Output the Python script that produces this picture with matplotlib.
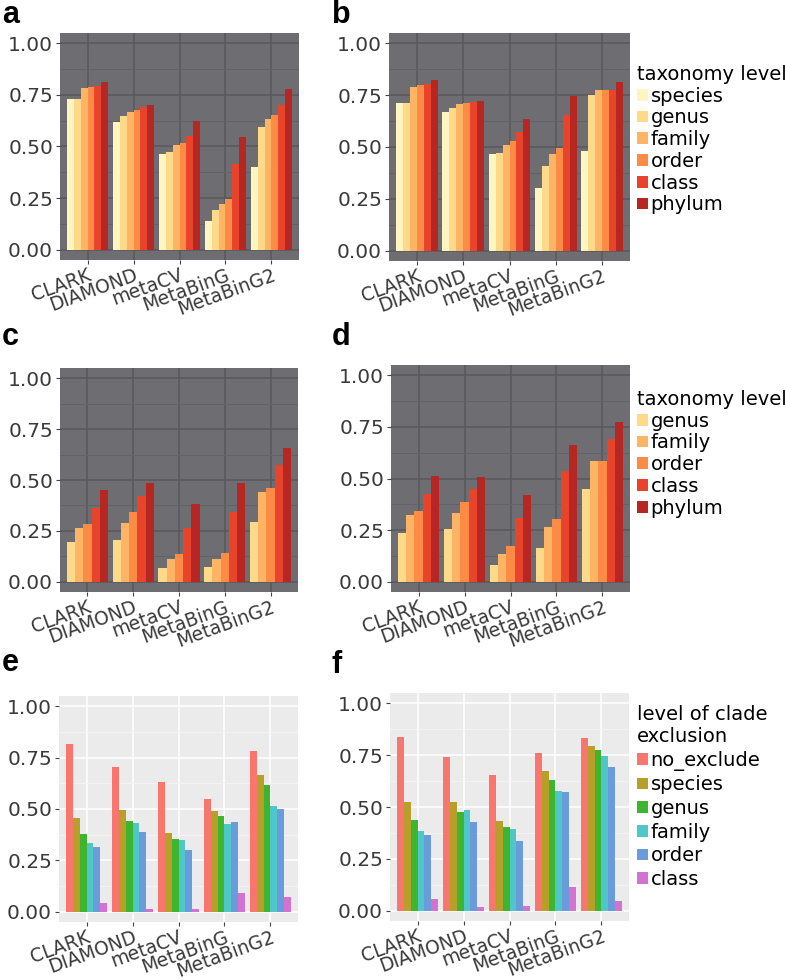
import matplotlib
matplotlib.use("Agg")
from matplotlib import pyplot as plt
from matplotlib.patches import Patch
from matplotlib.transforms import ScaledTranslation
import numpy as np

plt.rcParams['font.family'] = ['DejaVu Sans']

tools = ["CLARK", "DIAMOND", "metaCV", "MetaBinG", "MetaBinG2"]

tax_levels = ["species", "genus", "family", "order", "class", "phylum"]
tax_colors = ["#FFF5C0", "#FDD98A", "#FDB465", "#FC8B45", "#E8442C", "#B62622"]

excl_levels = ["no_exclude", "species", "genus", "family", "order", "class"]
excl_colors = ["#F8766D", "#B79F2A", "#3DB52F", "#4FC6C8", "#6A9BDB", "#D372D0"]

# rows = tools, columns = levels
a_vals = [[0.730, 0.730, 0.782, 0.790, 0.793, 0.811],
          [0.618, 0.647, 0.668, 0.676, 0.689, 0.701],
          [0.463, 0.471, 0.506, 0.519, 0.553, 0.625],
          [0.139, 0.191, 0.220, 0.248, 0.414, 0.545],
          [0.401, 0.595, 0.631, 0.652, 0.701, 0.777]]

b_vals = [[0.712, 0.712, 0.790, 0.799, 0.805, 0.821],
          [0.668, 0.688, 0.709, 0.714, 0.719, 0.722],
          [0.465, 0.470, 0.510, 0.529, 0.570, 0.637],
          [0.303, 0.409, 0.464, 0.496, 0.655, 0.746],
          [0.480, 0.749, 0.777, 0.777, 0.775, 0.814]]

c_vals = [[0.194, 0.264, 0.286, 0.364, 0.450],
          [0.207, 0.288, 0.343, 0.422, 0.487],
          [0.068, 0.110, 0.139, 0.264, 0.380],
          [0.074, 0.113, 0.142, 0.343, 0.484],
          [0.296, 0.442, 0.463, 0.576, 0.655]]

d_vals = [[0.238, 0.322, 0.342, 0.427, 0.512],
          [0.253, 0.334, 0.384, 0.448, 0.509],
          [0.082, 0.133, 0.173, 0.309, 0.421],
          [0.162, 0.264, 0.304, 0.536, 0.661],
          [0.448, 0.587, 0.587, 0.690, 0.773]]

e_vals = [[0.814, 0.457, 0.377, 0.333, 0.315, 0.044],
          [0.705, 0.493, 0.442, 0.432, 0.388, 0.011],
          [0.630, 0.383, 0.354, 0.347, 0.302, 0.015],
          [0.551, 0.489, 0.468, 0.429, 0.437, 0.090],
          [0.781, 0.664, 0.617, 0.516, 0.501, 0.070]]

f_vals = [[0.839, 0.526, 0.435, 0.385, 0.363, 0.056],
          [0.740, 0.526, 0.476, 0.485, 0.429, 0.016],
          [0.652, 0.434, 0.402, 0.395, 0.335, 0.021],
          [0.761, 0.674, 0.631, 0.577, 0.574, 0.116],
          [0.832, 0.792, 0.776, 0.748, 0.695, 0.045]]

W, H = 785, 980
fig = plt.figure(figsize=(W / 100, H / 100), dpi=100)


def px_axes(l, t, r, b):
    return fig.add_axes([l / W, 1 - b / H, (r - l) / W, (b - t) / H])


def draw(ax, vals, colors, dark):
    vals = np.array(vals)
    n = vals.shape[1]
    bw = 0.9 / n
    x = np.arange(1, len(tools) + 1)
    if dark:
        bg, gmaj, gmin = "#6E6E72", "#58585C", "#626266"
    else:
        bg, gmaj, gmin = "#EBEBEB", "#FFFFFF", "#F5F5F5"
    ax.set_facecolor(bg)
    for s in ax.spines.values():
        s.set_visible(False)
    ax.set_xlim(0.4, 5.6)
    ax.set_ylim(-0.05, 1.05)
    ax.set_yticks([0, 0.25, 0.5, 0.75, 1.0])
    ax.set_yticks([0.125, 0.375, 0.625, 0.875], minor=True)
    ax.set_yticklabels(["0.00", "0.25", "0.50", "0.75", "1.00"])
    ax.set_xticks(x)
    ax.set_xticklabels(tools, rotation=20, ha="right", rotation_mode="anchor")
    shift = ScaledTranslation(10 / 100, 5 / 100, fig.dpi_scale_trans)
    for t in ax.get_xticklabels():
        t.set_transform(t.get_transform() + shift)
    ax.grid(True, which="major", color=gmaj, lw=1.1)
    ax.grid(True, which="minor", axis="y", color=gmin, lw=0.6)
    ax.set_axisbelow(True)
    ax.tick_params(axis="both", which="major", length=3, width=0.8, color="#444444",
                   labelsize=14.5, labelcolor="#3a3a3a", pad=2)
    ax.tick_params(axis="x", labelsize=13.5, pad=1)
    ax.tick_params(axis="y", which="minor", length=0)
    for j in range(n):
        ax.bar(x - 0.45 + bw * (j + 0.5), vals[:, j], width=bw, color=colors[j], lw=0)


panels = [
    ("a", (60, 33, 299, 260), a_vals, tax_colors, True),
    ("b", (389, 33, 630, 261), b_vals, tax_colors, True),
    ("c", (60, 368, 298, 592), c_vals, tax_colors[1:], True),
    ("d", (391, 365, 630, 592), d_vals, tax_colors[1:], True),
    ("e", (59, 696, 298, 922), e_vals, excl_colors, False),
    ("f", (390, 693, 629, 921), f_vals, excl_colors, False),
]

label_pos = {"a": (2, 0), "b": (332, 0), "c": (2, 322), "d": (332, 322),
             "e": (2, 648), "f": (332, 650)}

for lab, box, vals, cols, dark in panels:
    ax = px_axes(*box)
    draw(ax, vals, cols, dark)
    lx, ly = label_pos[lab]
    fig.text(lx / W, 1 - ly / H, lab, fontsize=22, fontweight="bold", va="top", ha="left",
             family="Liberation Sans")


def add_legend(title, labels, colors, top, spacing):
    handles = [Patch(facecolor=c, edgecolor="none") for c in colors]
    leg = fig.legend(handles, labels, title=title, loc="upper left",
                     bbox_to_anchor=(637 / W, 1 - top / H), frameon=False,
                     fontsize=14, title_fontsize=14, handlelength=0.55,
                     handleheight=0.55, handletextpad=0.15, labelspacing=spacing,
                     borderaxespad=0, borderpad=0, alignment="left")
    return leg


add_legend("taxonomy level", tax_levels, tax_colors, 65, 0.14)
add_legend("taxonomy level", tax_levels[1:], tax_colors[1:], 390, 0.14)
add_legend("level of clade\nexclusion", excl_levels, excl_colors, 705, 0.24)

fig.savefig("out.png", dpi=100)
